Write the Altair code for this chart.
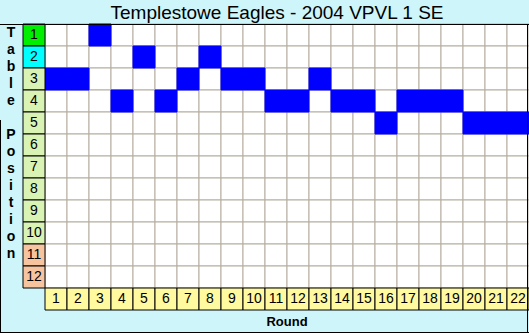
import altair as alt
import pandas as pd

title_text = "Templestowe Eagles - 2004 VPVL 1 SE"
rounds = list(range(1, 23))
positions = list(range(1, 13))
ladder_pos = [3, 3, 1, 4, 2, 4, 3, 2, 3, 3, 4, 4, 3, 4, 4, 5, 4, 4, 4, 5, 5, 5]
pos_colors = ["#00ee00", "#00ffff", "#d9f3b4", "#d9f3b4", "#d9f3b4", "#d9f3b4",
              "#d9f3b4", "#d9f3b4", "#d9f3b4", "#d9f3b4", "#f7c4a0", "#f7c4a0"]
round_color = "#fff9a0"
ylabel_letters = ["T", "a", "b", "l", "e", " ", "P", "o", "s", "i", "t", "i", "o", "n"]

W, H = 506, 286
xs = alt.Scale(domain=[-1, 22], range=[0, W], zero=False, nice=False)
ys = alt.Scale(domain=[0, 13], range=[0, H], zero=False, nice=False)

grid = pd.DataFrame([{"x0": r - 1, "x1": r, "y0": p - 1, "y1": p} for r in rounds for p in positions])
played = pd.DataFrame({"x0": [r - 1 for r in rounds], "x1": rounds,
                       "y0": [p - 1 for p in ladder_pos], "y1": ladder_pos})
poscells = pd.DataFrame({"x0": -1, "x1": 0, "y0": [p - 1 for p in positions], "y1": positions,
                         "xc": -0.5, "yc": [p - 0.5 for p in positions],
                         "lab": [str(p) for p in positions], "col": pos_colors})
roundcells = pd.DataFrame({"x0": [r - 1 for r in rounds], "x1": rounds, "y0": 12, "y1": 13,
                           "xc": [r - 0.5 for r in rounds], "yc": 12.5,
                           "lab": [str(r) for r in rounds]})

def rect_enc(ch):
    return ch.encode(
        x=alt.X("x0:Q", scale=xs, axis=None), x2="x1:Q",
        y=alt.Y("y0:Q", scale=ys, axis=None), y2="y1:Q")

grid_l = rect_enc(alt.Chart(grid).mark_rect(fill="white", stroke="#b4aca0", strokeWidth=1))
blue_l = rect_enc(alt.Chart(played).mark_rect(fill="#0000ff", stroke="#0000ff", strokeWidth=1))
pos_l = rect_enc(alt.Chart(poscells).mark_rect(stroke="black", strokeWidth=1)).encode(
    fill=alt.Fill("col:N", scale=None))
round_l = rect_enc(alt.Chart(roundcells).mark_rect(fill=round_color, stroke="black", strokeWidth=1))

txt_kw = dict(font="Liberation Sans", fontSize=14, color="black", align="center", baseline="middle")
pos_t = alt.Chart(poscells).mark_text(**txt_kw).encode(
    x=alt.X("xc:Q", scale=xs), y=alt.Y("yc:Q", scale=ys), text="lab:N")
round_t = alt.Chart(roundcells).mark_text(**txt_kw).encode(
    x=alt.X("xc:Q", scale=xs), y=alt.Y("yc:Q", scale=ys), text="lab:N")

one = pd.DataFrame({"a": [0]})
frame = alt.Chart(one).mark_rule(color="black", strokeWidth=1).encode(
    x=alt.value(-23), x2=alt.value(W), y=alt.value(0.5))
right_edge = alt.Chart(one).mark_rule(color="black", strokeWidth=1).encode(
    x=alt.value(W - 1.5), y=alt.value(0), y2=alt.value(H + 23))
bottom_edge = alt.Chart(one).mark_rule(color="black", strokeWidth=1).encode(
    x=alt.value(-23), x2=alt.value(W), y=alt.value(H + 22.5))
left_edge = alt.Chart(one).mark_rule(color="black", strokeWidth=1).encode(
    x=alt.value(-22.5), y=alt.value(96), y2=alt.value(H + 23))

ylab_df = pd.DataFrame({"t": ylabel_letters, "i": list(range(len(ylabel_letters)))})
ylab = alt.Chart(ylab_df).transform_calculate(py="9 + datum.i * 17").mark_text(
    font="Liberation Sans", fontSize=14, fontWeight="bold", align="center", baseline="middle",
    color="black").encode(
    x=alt.value(-12), y=alt.Y("py:Q", scale=None), text="t:N")
xlab = alt.Chart(pd.DataFrame({"t": ["Round"]})).mark_text(
    font="Liberation Sans", fontSize=13, fontWeight="bold", align="center", baseline="middle",
    color="black").encode(x=alt.value(264), y=alt.value(297.5), text="t:N")
title_l = alt.Chart(pd.DataFrame({"t": [title_text]})).mark_text(
    font="Liberation Sans", fontSize=19, align="center", baseline="alphabetic",
    color="black").encode(x=alt.value(254), y=alt.value(-5), text="t:N")

chart = alt.layer(grid_l, blue_l, pos_l, round_l, pos_t, round_t, frame, right_edge,
                  bottom_edge, left_edge, ylab, xlab, title_l).properties(
    width=W, height=H,
    autosize=alt.AutoSizeParams(type="none"),
    padding={"left": 23, "top": 24, "right": 0, "bottom": 23},
    background="#cdf5fa",
).configure_view(stroke=None)

chart.save("out.html", embed_options={"renderer": "svg", "actions": False})
